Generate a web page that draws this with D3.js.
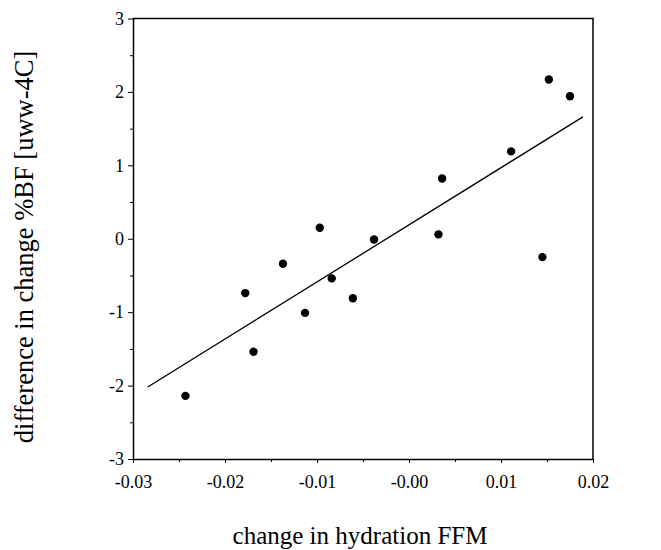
<!DOCTYPE html>
<html>
<head>
<meta charset="utf-8">
<script src="https://cdn.jsdelivr.net/npm/d3@7"></script>
<style>
  body { margin: 0; background: #fff; }
  text { font-family: "Liberation Serif", "DejaVu Serif", serif; fill: #000; }
</style>
</head>
<body>
<div id="main"></div>
<script>
// points
const hydration = [-0.0243, -0.0169, -0.0178, -0.0137, -0.0113, -0.0097, -0.0084, -0.0061,
  -0.0038, 0.0032, 0.0036, 0.0111, 0.0145, 0.0152, 0.0175];
const diffBF = [-2.14, -1.54, -0.74, -0.34, -1.01, 0.15, -0.54, -0.81,
  -0.01, 0.06, 0.82, 1.19, -0.25, 2.17, 1.94];

// fitted line ends
const fitX = [-0.0284, 0.0189];
const fitY = [-2.02, 1.66];

const xTicks = [-0.03, -0.02, -0.01, 0, 0.01, 0.02];
const xTickLabels = ["-0.03", "-0.02", "-0.01", "-0.00", "0.01", "0.02"];
const yTicks = [-3, -2, -1, 0, 1, 2, 3];

const margin = {top: 18.5, right: 68, bottom: 91, left: 133},
  width = 661 - margin.left - margin.right,
  height = 550 - margin.top - margin.bottom;

const svg = d3.select("#main")
  .append("svg")
    .attr("width", 661)
    .attr("height", 550);

const g = svg.append("g")
  .attr("transform", `translate(${margin.left},${margin.top})`);

const x = d3.scaleLinear().domain([-0.03, 0.02]).range([0, width]);
const y = d3.scaleLinear().domain([-3, 3]).range([height, 0]);

// minor ticks
g.append("g")
  .attr("transform", `translate(0,${height})`)
  .call(d3.axisBottom(x).tickValues(d3.range(-0.025, 0.02, 0.01)).tickSize(3).tickFormat(""))
  .call(a => a.select(".domain").remove());
g.append("g")
  .call(d3.axisLeft(y).tickValues(d3.range(-2.5, 3, 1)).tickSize(3).tickFormat(""))
  .call(a => a.select(".domain").remove());

// x axis
g.append("g")
  .attr("transform", `translate(0,${height})`)
  .call(d3.axisBottom(x).tickValues(xTicks).tickSize(4).tickSizeOuter(0)
    .tickFormat((d, i) => xTickLabels[i]))
  .call(a => a.selectAll("text").attr("font-size", 18).attr("y", 29).attr("dy", 0))
  .call(a => a.select(".domain").attr("stroke-width", 1.5));

// y axis
g.append("g")
  .call(d3.axisLeft(y).tickValues(yTicks).tickSize(5).tickSizeOuter(0).tickFormat(d => String(d)))
  .call(a => a.selectAll("text").attr("font-size", 18).attr("x", -9))
  .call(a => a.select(".domain").attr("stroke-width", 1.5));

// box
g.append("path")
  .attr("d", `M0,0H${width}V${height}`)
  .attr("fill", "none")
  .attr("stroke", "#000")
  .attr("stroke-width", 1.5);

// fitted line
g.append("path")
  .datum(fitX.map((d, i) => [d, fitY[i]]))
  .attr("fill", "none")
  .attr("stroke", "#000")
  .attr("stroke-width", 1.3)
  .attr("d", d3.line().x(d => x(d[0])).y(d => y(d[1])));

// points
g.selectAll(".pt")
  .data(hydration.map((d, i) => [d, diffBF[i]]))
  .join("circle")
    .attr("class", "pt")
    .attr("cx", d => x(d[0]))
    .attr("cy", d => y(d[1]))
    .attr("r", 4.2)
    .attr("fill", "#000");

// axis titles
svg.append("text")
  .attr("x", 360)
  .attr("y", 544)
  .attr("text-anchor", "middle")
  .attr("font-size", 25)
  .text("change in hydration FFM");

svg.append("text")
  .attr("transform", "translate(33,247) rotate(-90)")
  .attr("text-anchor", "middle")
  .attr("font-size", 26.5)
  .text("difference in change %BF [uww-4C]");
</script>
</body>
</html>
